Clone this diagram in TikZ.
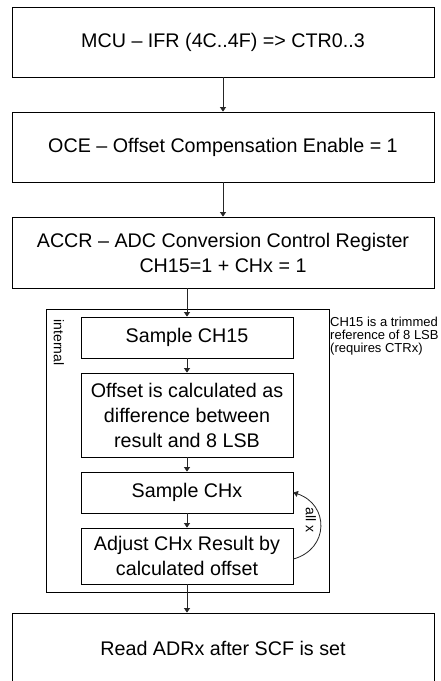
\documentclass[tikz,border=0pt]{standalone}
\usepackage{fontspec}
\setmainfont{Liberation Sans}
\usetikzlibrary{arrows.meta}
\begin{document}
\begin{tikzpicture}[x=1pt,y=-1pt,
  box/.style={draw=black,line width=0.8pt,rectangle,inner sep=0pt,align=center,
    font=\fontsize{19.7}{25}\selectfont},
  bigbox/.style={box,minimum width=422pt},
  smallbox/.style={box,minimum width=212pt},
  arr/.style={draw=black!85,line width=0.8pt,-{Triangle[length=4.5pt,width=6pt]}},
  small/.style={font=\fontsize{13}{13.4}\selectfont,inner sep=0pt}]
\useasboundingbox (0,0) rectangle (441,681);
\clip (0,0) rectangle (441,681);
\fill[white] (0,0) rectangle (441,681);
\node[bigbox,minimum height=70pt] (b1) at (223,42) {MCU – IFR (4C..4F) => CTR0..3};
\node[bigbox,minimum height=70pt] (b2) at (223,147) {OCE – Offset Compensation Enable = 1};
\node[bigbox,minimum height=71pt] (b3) at (223,252.5) {ACCR – ADC Conversion Control Register\\CH15=1 + CHx = 1};
\node[draw=black,line width=0.8pt,rectangle,inner sep=0pt,minimum width=283pt,minimum height=283pt] (int) at (187.5,450.5) {};
\node[smallbox,minimum height=41pt] (s15) at (187,337.5) {Sample CH15};
\node[smallbox,minimum height=84pt] (off) at (187,415) {Offset is calculated as\\difference between\\result and 8 LSB};
\node[smallbox,minimum height=41pt] (schx) at (187,492.5) {Sample CHx};
\node[smallbox,minimum height=56pt] (adj) at (187,556) {Adjust CHx Result by\\calculated offset};
\node[bigbox,minimum height=71pt] (rd) at (223,648.5) {Read ADRx after SCF is set};
\node[small,rotate=-90,font=\fontsize{14}{14}\selectfont] (lint) at (59,342.5) {internal};
\node[small,anchor=north west,align=left] (note) at (330,316.5) {CH15 is a trimmed\\reference of 8 LSB\\(requires CTRx)};
\draw[arr] (b1) -- (b2);
\draw[arr] (b2) -- (b3);
\draw[arr] (b3.south -| s15) -- (s15.north);
\draw[arr] (s15) -- (off);
\draw[arr] (off) -- (schx);
\draw[arr] (schx) -- (adj);
\draw[arr] (adj.south) -- (adj.south |- rd.north);
\coordinate (cs) at ([yshift=-3pt]adj.east);
\draw[arr] (cs) .. controls +(36,-10) and +(36,12) .. (schx.east);
\node[small,rotate=-90,font=\fontsize{14}{14}\selectfont] (allx) at (311,520) {all x};
\end{tikzpicture}
\end{document}
